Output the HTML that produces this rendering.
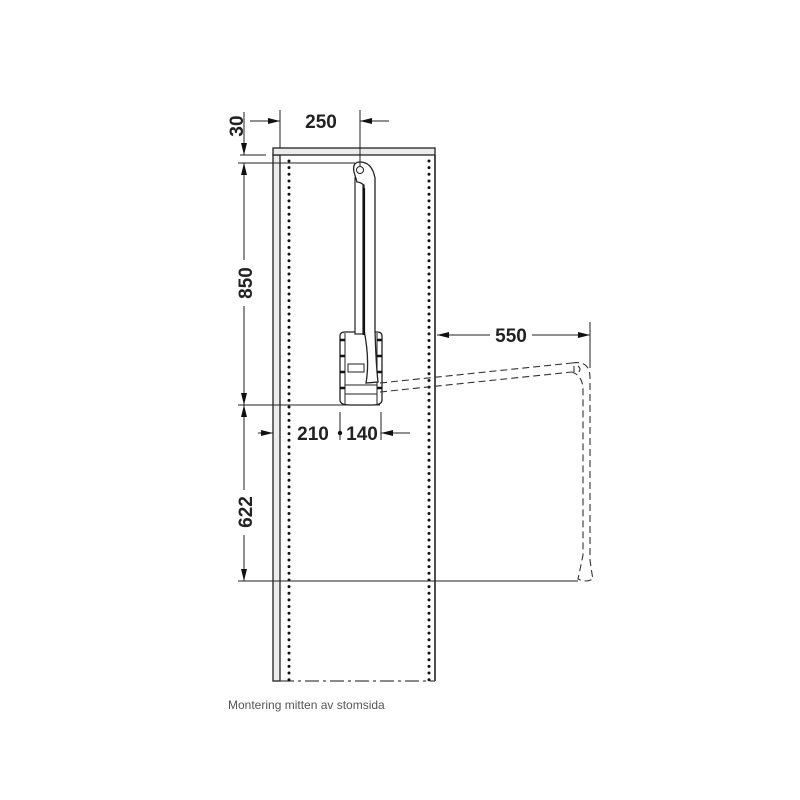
<!DOCTYPE html>
<html><head><meta charset="utf-8"><style>
html,body{margin:0;padding:0;background:#fff;}
svg{display:block;}
text{font-family:"Liberation Sans",Arial,sans-serif;}
</style></head><body>
<svg width="800" height="800" viewBox="0 0 800 800" xmlns="http://www.w3.org/2000/svg">
<defs>
<marker id="ar" viewBox="0 0 12 6" refX="12" refY="3" markerWidth="12" markerHeight="6" orient="auto" markerUnits="userSpaceOnUse">
<path d="M0,0 L12,3 L0,6 Z" fill="#111"/>
</marker>
</defs>
<!-- cabinet -->
<rect x="273" y="155" width="7" height="526" fill="#ececec" stroke="#222" stroke-width="1.3"/>
<rect x="273" y="148" width="162" height="7" fill="#ececec" stroke="#222" stroke-width="1.3"/>
<line x1="435" y1="155" x2="435" y2="681" stroke="#222" stroke-width="1.6"/>
<line x1="280" y1="681" x2="435" y2="681" stroke="#444" stroke-width="1.2" stroke-dasharray="14 4 3 4"/>
<line x1="289" y1="161" x2="289" y2="681" stroke="#111" stroke-width="3" stroke-linecap="round" stroke-dasharray="0 6.65"/>
<line x1="429" y1="161" x2="429" y2="681" stroke="#111" stroke-width="3" stroke-linecap="round" stroke-dasharray="0 6.65"/>

<!-- mechanism box -->
<path d="M340,336 Q340,332 345,332 L377,332 Q382,332 382,336 L382,400 Q382,405 372,405 L350,405 Q340,405 340,400 Z" fill="#fff" stroke="#222" stroke-width="1.3"/>
<line x1="345" y1="333" x2="345" y2="404" stroke="#222" stroke-width="1"/>
<line x1="377" y1="333" x2="377" y2="404" stroke="#222" stroke-width="1"/>
<g stroke="#111" stroke-width="2.5">
<line x1="340" y1="340" x2="345" y2="340"/><line x1="340" y1="356" x2="345" y2="356"/><line x1="340" y1="372" x2="345" y2="372"/><line x1="340" y1="388" x2="345" y2="388"/>
<line x1="377" y1="340" x2="382" y2="340"/><line x1="377" y1="356" x2="382" y2="356"/><line x1="377" y1="372" x2="382" y2="372"/><line x1="377" y1="388" x2="382" y2="388"/>
</g>
<rect x="348" y="364" width="16" height="8" fill="#fff" stroke="#222" stroke-width="1"/>
<line x1="345" y1="385" x2="377" y2="385" stroke="#222" stroke-width="1"/>
<line x1="345" y1="394" x2="377" y2="394" stroke="#222" stroke-width="1"/>
<!-- arm -->
<rect x="355" y="178" width="8" height="156" fill="#fff" stroke="#222" stroke-width="1.2"/>
<path d="M354,172 Q352,162 360,162 Q372,162 375,178 L375,330 Q376,365 378,382 L366,383 Q370,360 364,330 L364,185 Q360,182 357,182 Z" fill="#fff" stroke="#222" stroke-width="1.3"/>
<line x1="364" y1="188" x2="364" y2="335" stroke="#111" stroke-width="2.2"/>
<circle cx="360" cy="170" r="3.5" fill="#fff" stroke="#222" stroke-width="1"/>

<!-- dashed extended arm -->
<g fill="none" stroke="#333" stroke-width="1.1" stroke-dasharray="7 4">
<line x1="380" y1="383" x2="572" y2="363"/>
<line x1="380" y1="392" x2="572" y2="372"/>
<path d="M572,363 Q590,360 590,378 L590,560 Q592,575 593,579 Q586,583 578,579 Q580,570 583,555 L583,390 Q583,376 572,372"/>
<path d="M574,366 L574,372 M578,366 Q582,369 578,373"/>
</g>

<!-- dimension lines -->
<g stroke="#222" stroke-width="1" fill="none">
<!-- 30 -->
<line x1="240" y1="155" x2="266" y2="155"/>
<line x1="238" y1="163" x2="355" y2="163"/>
<line x1="244" y1="112" x2="244" y2="155" marker-end="url(#ar)"/>
<!-- 250 -->
<line x1="280" y1="110" x2="280" y2="148"/>
<line x1="360" y1="110" x2="360" y2="166"/>
<line x1="250" y1="121" x2="280" y2="121" marker-end="url(#ar)"/>
<line x1="389" y1="121" x2="360" y2="121" marker-end="url(#ar)"/>
<!-- 850 -->
<line x1="244" y1="163" x2="244" y2="260"/>
<line x1="244" y1="306" x2="244" y2="405"/>
<line x1="238" y1="405" x2="380" y2="405"/>
<line x1="244" y1="405" x2="244" y2="490"/>
<!-- 622 -->
<line x1="244" y1="535" x2="244" y2="581" marker-end="url(#ar)"/>
<line x1="238" y1="581" x2="578" y2="581"/>
<!-- 550 -->
<line x1="590" y1="322" x2="590" y2="368"/>
<line x1="490" y1="335" x2="437" y2="335" marker-end="url(#ar)"/>
<line x1="532" y1="335" x2="590" y2="335" marker-end="url(#ar)"/>
<!-- 210 140 -->
<line x1="258" y1="433" x2="273" y2="433" marker-end="url(#ar)"/>
<line x1="340" y1="412" x2="340" y2="440"/>
<line x1="381" y1="412" x2="381" y2="440"/>
<line x1="410" y1="433" x2="381" y2="433" marker-end="url(#ar)"/>
</g>
<path d="M244,163 l-3,12 h6 z" fill="#111"/>
<path d="M244,405 l-3,-12 h6 z" fill="#111"/>
<path d="M244,405 l-3,12 h6 z" fill="#111"/>
<circle cx="340" cy="433" r="2.2" fill="#111"/>

<g font-weight="bold" font-size="19" fill="#222">
<text x="321" y="128" text-anchor="middle">250</text>
<text x="511" y="342" text-anchor="middle">550</text>
<text x="313" y="440" text-anchor="middle">210</text>
<text x="362" y="440" text-anchor="middle">140</text>
<text transform="translate(236,126) rotate(-90)" text-anchor="middle" dy="7">30</text>
<text transform="translate(245,283) rotate(-90)" text-anchor="middle" dy="7">850</text>
<text transform="translate(245,512) rotate(-90)" text-anchor="middle" dy="7">622</text>
</g>
<text x="228" y="709" font-size="12" fill="#555">Montering mitten av stomsida</text>
</svg>
</body></html>
